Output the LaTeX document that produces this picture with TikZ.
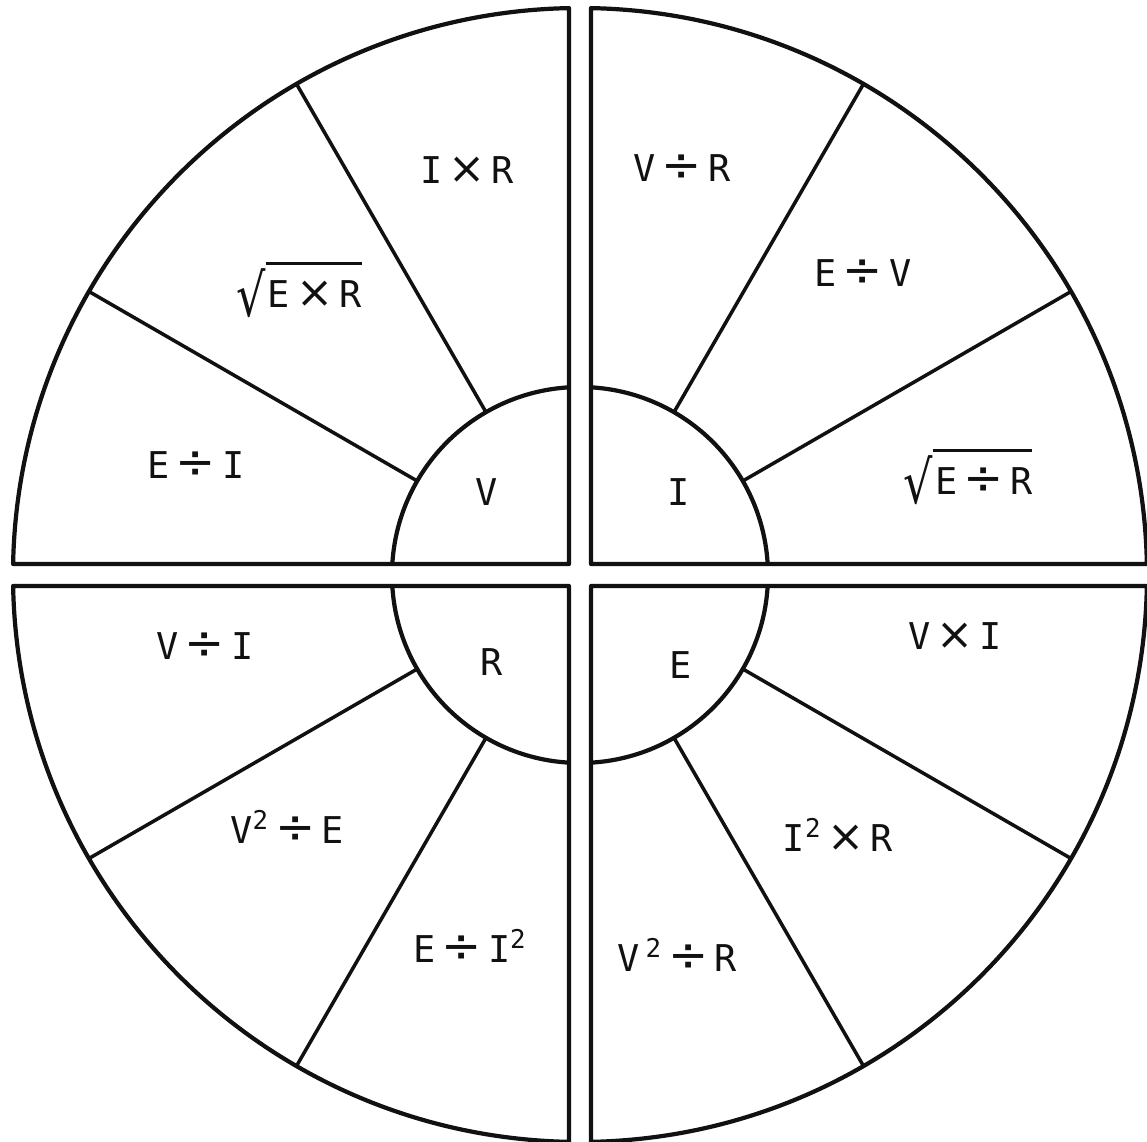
\documentclass[tikz,border=0pt]{standalone}
\usepackage{fontspec}
\usepackage{graphicx}
\setmainfont{DejaVu Sans Mono}
\newfontfamily\opfont{DejaVu Sans}
\usepackage{tikz}
\usetikzlibrary{calc}
\definecolor{WheelInk}{HTML}{111111}
% wheel sizes (cm) and the half width of the cross gap
\def\wheelR{11.34}
\def\wheelr{3.76}
\def\gapcorner{0.311}
\def\angout{1.11}
\def\angin{3.35}
% operators, a little wider than the mono ones
\newcommand{\tms}{\,{\opfont\scalebox{1.2}{×}}\,}
\newcommand{\dvd}{\,{\opfont\scalebox{1.3}{÷}}\,}
\newcommand{\rootof}[1]{\raisebox{-0.25em}{\scalebox{1.25}[1.6]{\opfont √}}\vbox{\hrule height 1.4pt\kern 0.43em\hbox{\kern0.06em#1}}}
\tikzset{
  rim/.style={draw=WheelInk,line width=2.4pt,line join=round},
  spoke/.style={draw=WheelInk,line width=2pt},
  formula/.style={text=WheelInk,font=\fontsize{21}{25}\selectfont,inner sep=1pt},
  quantity/.style={formula}
}

\begin{document}
\begin{tikzpicture}[x=1cm,y=1cm]
  \useasboundingbox (-11.6,-11.34) rectangle (11.34,11.5);

  % Four quarter plates, each cut in an inner quarter and three outer cells.
  \foreach \q in {0,90,180,270}{
    \draw[rim] (\q+45:\gapcorner) -- (\q+\angout:\wheelR)
      arc[start angle=\q+\angout,end angle=\q+90-\angout,radius=\wheelR] -- cycle;
    \draw[rim] (\q+\angin:\wheelr)
      arc[start angle=\q+\angin,end angle=\q+90-\angin,radius=\wheelr];
    \draw[spoke] (\q+30:\wheelr) -- (\q+30:\wheelR);
    \draw[spoke] (\q+60:\wheelr) -- (\q+60:\wheelR);
  }

  % Inner quantities.
  \node[quantity] (qV) at (-1.86,1.66)  {V};
  \node[quantity] (qI) at (1.98,1.66)   {I};
  \node[quantity] (qR) at (-1.76,-1.74) {R};
  \node[quantity] (qE) at (2.02,-1.8)   {E};

  % Voltage cells.
  \node[formula] (v1) at (-2.26,8.1)  {I\tms R};
  \node[formula] (v2) at (-5.62,5.7)  {\rootof{E\tms R}};
  \node[formula] (v3) at (-7.68,2.2)  {E\dvd I};

  % Current cells.
  \node[formula] (i1) at (2.04,8.14)  {V\dvd R};
  \node[formula] (i2) at (5.66,6.04)  {E\dvd V};
  \node[formula] (i3) at (7.76,1.96)  {\rootof{E\dvd R}};

  % Power cells.
  \node[formula] (e1) at (7.5,-1.22)  {V\tms I};
  \node[formula] (e2) at (5.16,-5.2)  {I\textsuperscript{2}\tms R};
  \node[formula] (e3) at (1.94,-7.6)  {V\,\textsuperscript{2}\dvd R};

  % Resistance cells.
  \node[formula] (r1) at (-7.5,-1.42) {V\dvd I};
  \node[formula] (r2) at (-5.86,-5.04) {V\textsuperscript{2}\dvd E};
  \node[formula] (r3) at (-2.2,-7.42) {E\dvd I\textsuperscript{2}};
\end{tikzpicture}
\end{document}
